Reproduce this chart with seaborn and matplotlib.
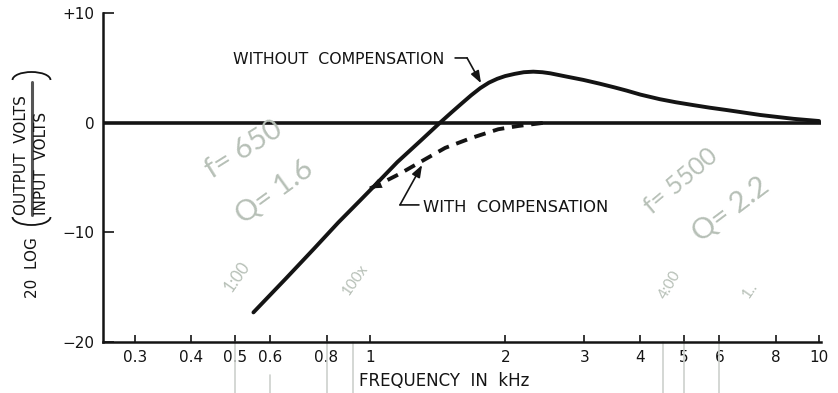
import matplotlib
matplotlib.use("Agg")
import matplotlib.pyplot as plt
from matplotlib.patches import Arc
from matplotlib.transforms import IdentityTransform
from matplotlib.lines import Line2D
import seaborn as sns
import pandas as pd

# Frequency response, 20 log(Vout/Vin) in dB versus frequency in kHz
freq_without = [0.55, 0.65, 0.75, 0.85, 0.95, 1.015, 1.15, 1.3, 1.432, 1.52,
                1.6, 1.68, 1.76, 1.84, 1.92, 2.0, 2.1, 2.2, 2.31, 2.42, 2.52,
                2.74, 2.985, 3.25, 3.5, 3.73, 4.0, 4.42, 4.8, 5.25, 5.7, 6.23,
                7.4, 8.77, 10.0]
db_without = [-17.3, -14.2, -11.5, -9.1, -7.1, -5.9, -3.6, -1.6, 0.0, 0.95,
              1.75, 2.5, 3.15, 3.65, 4.0, 4.25, 4.45, 4.6, 4.65, 4.6, 4.5,
              4.2, 3.9, 3.55, 3.22, 2.92, 2.56, 2.14, 1.86, 1.6, 1.37, 1.15,
              0.7, 0.35, 0.15]

freq_with = [1.0, 1.05, 1.16, 1.28, 1.47, 1.68, 1.93, 2.14, 2.45]
db_with = [-6.0, -5.6, -4.7, -3.7, -2.3, -1.4, -0.6, -0.3, 0.0]

x_ticks = [0.3, 0.4, 0.5, 0.6, 0.8, 1, 2, 3, 4, 5, 6, 8, 10]
x_tick_labels = ["0.3", "0.4", "0.5", "0.6", "0.8", "1", "2", "3", "4", "5", "6", "8", "10"]
y_ticks = [-20, -10, 0, 10]
y_tick_labels = ["\u221220", "\u221210", "0", "+10"]

# pencil reference marks below the frequency axis (kHz)
pencil_lines = [0.5, 0.6, 0.8, 0.917, 4.49, 5.0, 6.0]

sns.set_theme(style="white")
plt.rcParams["font.family"] = ["DejaVu Sans"]

ink = "#141414"
pencil = "#b7c0b7"

W, H = 838, 393
fig = plt.figure(figsize=(W / 100, H / 100), dpi=100)
ax = fig.add_axes([103 / W, 1 - 342 / H, (821 - 103) / W, (342 - 13) / H])

df_wo = pd.DataFrame({"f": freq_without, "db": db_without})
df_w = pd.DataFrame({"f": freq_with, "db": db_with})

ax.set_xscale("log")
ax.set_xlim(0.2543, 10.1)
ax.set_ylim(-20, 10)

# 0 dB reference line
ax.axhline(0, color=ink, lw=2.6, zorder=2)

sns.lineplot(data=df_wo, x="f", y="db", ax=ax, color=ink, lw=2.8, zorder=3,
             estimator=None, sort=False)
sns.lineplot(data=df_w, x="f", y="db", ax=ax, color=ink, lw=2.8, zorder=3,
             estimator=None, sort=False)
ax.lines[-1].set_dashes([3.0, 2.0])
for ln in ax.lines:
    ln.set_solid_capstyle("round")
    ln.set_solid_joinstyle("round")

# arrowhead where the compensated curve leaves the uncompensated one
ax.annotate("", xy=(freq_with[0], db_with[0]), xytext=(freq_with[2], db_with[2]),
            arrowprops=dict(arrowstyle="-|>,head_length=0.7,head_width=0.3",
                            color=ink, lw=0, shrinkA=0, shrinkB=0))

# labels with leaders
ax.text(0.495, 5.8, "WITHOUT  COMPENSATION", fontsize=11.3, color=ink,
        ha="left", va="center")
ax.annotate("", xy=(1.645, 5.9), xytext=(1.547, 5.9),
            arrowprops=dict(arrowstyle="-", color=ink, lw=1.2,
                            shrinkA=0, shrinkB=0))
ax.annotate("", xy=(1.767, 3.6), xytext=(1.645, 5.9),
            arrowprops=dict(arrowstyle="-|>,head_length=0.6,head_width=0.22",
                            color=ink, lw=1.2, shrinkA=0, shrinkB=0))

ax.text(1.31, -7.7, "WITH  COMPENSATION", fontsize=11.8, color=ink,
        ha="left", va="center")
ax.annotate("", xy=(1.166, -7.5), xytext=(1.285, -7.5),
            arrowprops=dict(arrowstyle="-", color=ink, lw=1.2,
                            shrinkA=0, shrinkB=0))
ax.annotate("", xy=(1.306, -3.86), xytext=(1.166, -7.5),
            arrowprops=dict(arrowstyle="-|>,head_length=0.6,head_width=0.22",
                            color=ink, lw=1.2, shrinkA=0, shrinkB=0))

# axes styling
sns.despine(ax=ax)
for side in ("left", "bottom"):
    ax.spines[side].set_color(ink)
    ax.spines[side].set_linewidth(1.8)
ax.set_xticks(x_ticks)
ax.set_xticklabels(x_tick_labels)
ax.xaxis.set_minor_locator(matplotlib.ticker.NullLocator())
ax.set_yticks(y_ticks)
ax.set_yticklabels(y_tick_labels)
ax.tick_params(axis="x", direction="in", length=5, width=1.2, color=ink,
               labelsize=11, labelcolor=ink, pad=6, bottom=True)
ax.tick_params(axis="y", direction="in", length=8, width=1.2, color=ink,
               labelsize=11, labelcolor=ink, pad=6, left=True)
ax.grid(False)

ax.set_xlabel("FREQUENCY  IN  kHz", fontsize=12, color=ink)
ax.xaxis.set_label_coords(0.475, -0.09)
ax.set_ylabel("")


def fx(px):
    return px / W


def fy(py):
    return 1 - py / H


# vertical axis title: 20 LOG (OUTPUT VOLTS / INPUT VOLTS)
fig.text(fx(32), fy(268), "20  LOG", rotation=90, ha="center", va="center",
         fontsize=11, color=ink)
fig.text(fx(22), fy(215), "OUTPUT  VOLTS", rotation=90, ha="center",
         va="bottom", fontsize=11, color=ink)
fig.text(fx(41), fy(215), "INPUT  VOLTS", rotation=90, ha="center",
         va="bottom", fontsize=11, color=ink)
fig.add_artist(Line2D([fx(31.5), fx(31.5)], [fy(215), fy(82)],
                      transform=fig.transFigure, color="#555555", lw=2.2))
fig.add_artist(Arc((31.5, H - 217), 38, 16, theta1=180, theta2=360,
                   transform=IdentityTransform(), color=ink, lw=1.3))
fig.add_artist(Arc((31.5, H - 80), 38, 16, theta1=0, theta2=180,
                   transform=IdentityTransform(), color=ink, lw=1.3))

# pencil notes
for fxv in pencil_lines:
    y0 = -0.10 if fxv == 0.6 else 0.0
    ax.plot([fxv, fxv], [y0, -0.17], transform=ax.get_xaxis_transform(),
            color="#cdd1cd", lw=1.2, clip_on=False, zorder=1)

notes = [
    ("f= 650", 244, 150, 32, 21),
    ("Q= 1.6", 275, 192, 36, 21),
    ("1:00", 237, 277, 55, 12),
    ("100x", 355, 280, 55, 11),
    ("f= 5500", 681, 181, 40, 18),
    ("Q= 2.2", 731, 210, 37, 21),
    ("4:00", 670, 285, 60, 11),
    ("1..", 750, 290, 55, 11),
]
for txt, px, py, rot, fs in notes:
    fig.text(fx(px), fy(py), txt, rotation=rot, ha="center", va="center",
             fontsize=fs, color=pencil, family=["Lato", "DejaVu Sans"],
             fontweight="normal")

fig.savefig("out.png", dpi=100)
